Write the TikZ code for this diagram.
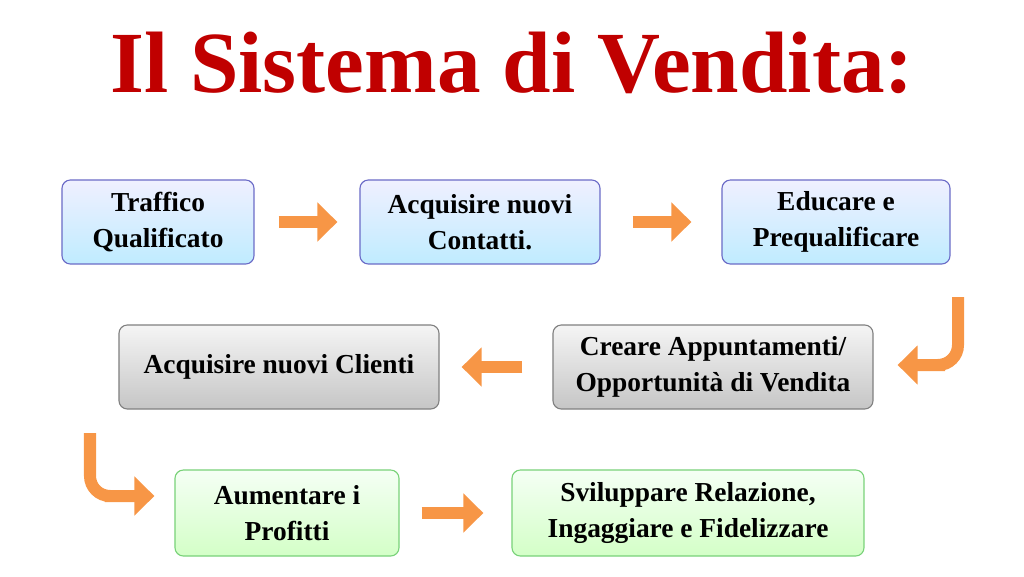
\documentclass[tikz,border=0pt]{standalone}
\usepackage{fontspec}
\setmainfont{Liberation Serif}
\usetikzlibrary{arrows.meta}
\definecolor{titlered}{HTML}{C00000}
\definecolor{arroworange}{HTML}{F79646}
\tikzset{
  stepbox/.style={draw, rounded corners=6pt, line width=0.8pt, align=center,
    font=\fontsize{19.5}{26}\selectfont\bfseries, inner sep=0pt},
  bluebox/.style={stepbox, draw=blue!45!gray!80, top color=blue!6, bottom color=blue!30!cyan!25},
  graybox/.style={stepbox, draw=gray, top color=gray!8, bottom color=gray!45},
  greenbox/.style={stepbox, draw=green!50!gray!70, top color=green!4, bottom color=lime!30!green!22},
  flow/.style={arroworange, line width=0.3cm, -{Triangle[width=0.95cm,length=0.5cm]}},
  hook/.style={flow, rounded corners=0.5cm}
}
\begin{document}
\begin{tikzpicture}[x=0.025cm, y=-0.025cm]
  \useasboundingbox (0,0) rectangle (1024,577);
  \node[text=titlered, font=\fontsize{62}{64}\selectfont\bfseries] (title) at (512,63) {Il Sistema di Vendita:};
  % first row
  \node[bluebox, minimum width=4.8cm, minimum height=2.1cm] (traffico) at (158,222) {Traffico\\Qualificato};
  \node[bluebox, minimum width=6cm, minimum height=2.1cm] (contatti) at (480,222) {Acquisire nuovi\\Contatti.};
  \node[bluebox, minimum width=5.7cm, minimum height=2.1cm] (educare) at (836,222) {Educare e\\Prequalificare};
  % second row
  \node[graybox, minimum width=8cm, minimum height=2.1cm] (clienti) at (279,367) {Acquisire nuovi Clienti};
  \node[graybox, minimum width=8cm, minimum height=2.1cm] (appuntamenti) at (713,367) {Creare Appuntamenti/\\Opportunità di Vendita};
  % third row
  \node[greenbox, minimum width=5.6cm, minimum height=2.15cm] (profitti) at (287,513) {Aumentare i\\Profitti};
  \node[greenbox, minimum width=8.8cm, minimum height=2.15cm] (relazione) at (688,513) {Sviluppare Relazione,\\Ingaggiare e Fidelizzare};
  % arrows
  \coordinate (hookR) at (958,297);
  \coordinate (hookL) at (90,433);
  \draw[flow] ([xshift=0.6cm]traffico.east) -- ([xshift=-0.55cm]contatti.west);
  \draw[flow] ([xshift=0.8cm]contatti.east) -- ([xshift=-0.75cm]educare.west);
  \draw[hook] (hookR) -- (958,365) -- (925,365) -- ([xshift=0.6cm]appuntamenti.east |- 0,365);
  \draw[flow] ([xshift=-0.75cm]appuntamenti.west) -- ([xshift=0.55cm]clienti.east);
  \draw[hook] (hookL) -- (90,496) -- (125,496) -- ([xshift=-0.5cm]profitti.west |- 0,496);
  \draw[flow] ([xshift=0.55cm]profitti.east) -- ([xshift=-0.7cm]relazione.west);
\end{tikzpicture}
\end{document}
